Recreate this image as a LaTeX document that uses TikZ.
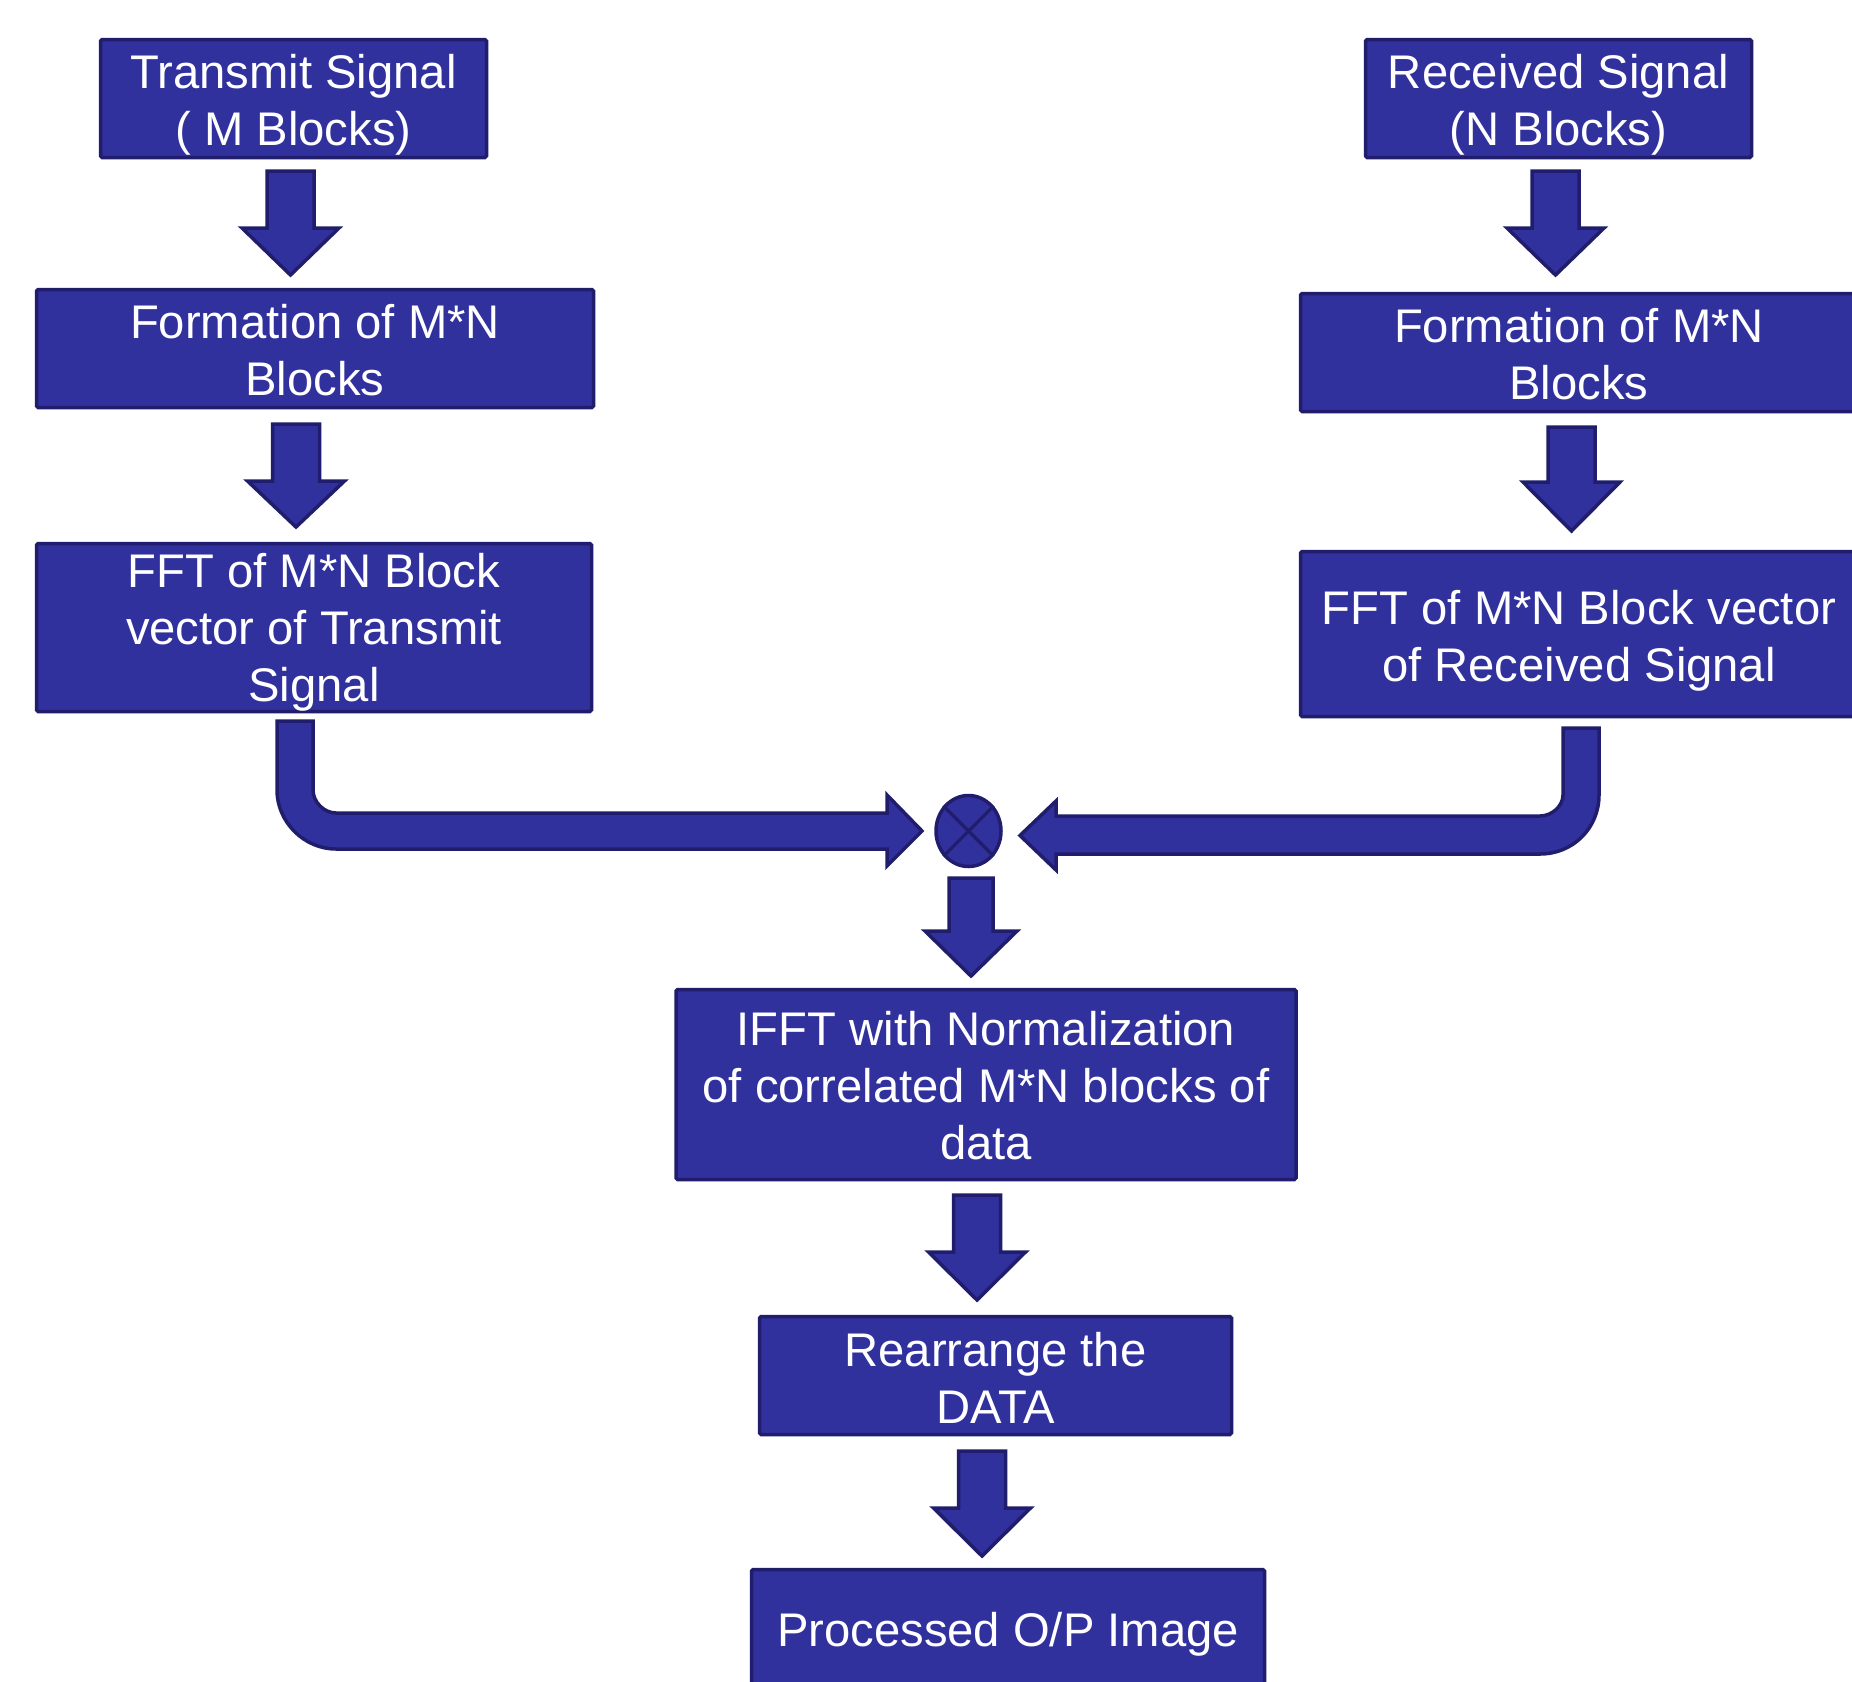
\documentclass[tikz,border=0pt]{standalone}
\usepackage{fontspec}
\setmainfont{Liberation Sans}
\usetikzlibrary{shapes.geometric}
\definecolor{bfill}{RGB}{49,49,158}
\definecolor{bline}{RGB}{32,30,108}
\tikzset{
  box/.style={draw=bline, fill=bfill, line width=1.75pt, inner sep=0pt, rounded corners=0.8pt},
  txt/.style={text=white, align=center, inner sep=0pt, font=\fontsize{23.6}{28.5}\selectfont},
  barrow/.style={draw=bline, fill=bfill, line width=1.75pt, line join=miter},
}
% \dnarrow{cx}{top}{wing}{tip}{shaft half}{head half}
\newcommand\dnarrow[6]{%
  \draw[barrow] (#1-#5,#2) -- (#1+#5,#2) -- (#1+#5,#3) -- (#1+#6,#3) -- (#1,#4)
    -- (#1-#6,#3) -- (#1-#5,#3) -- cycle;}
\begin{document}
\begin{tikzpicture}[x=0.5pt, y=-0.5pt]
\useasboundingbox (0,0) rectangle (1852,1681);
\clip (0,0) rectangle (1852,1681);
\fill[white] (0,0) rectangle (1852,1681);

% boxes
\node[box, minimum width=193pt, minimum height=59pt] (tx) at (293.5,98.5) {};
\node[txt] (txt-tx) at ([yshift=-3pt]tx.center) {Transmit Signal\\( M Blocks)};
\node[box, minimum width=278.5pt, minimum height=59pt] (fl) at (315,348.5) {};
\node[txt] (txt-fl) at ([yshift=-0.6pt]fl.center) {Formation of M*N\\Blocks};
\node[box, minimum width=277.5pt, minimum height=84pt] (fftl) at (314,627.5) {};
\node[txt] (txt-fftl) at ([yshift=-2.4pt]fftl.center) {FFT of M*N Block\\vector of Transmit\\Signal};
\node[box, minimum width=193pt, minimum height=59pt] (rx) at (1558.5,98.5) {};
\node[txt] (txt-rx) at ([yshift=-3pt]rx.center) {Received Signal\\(N Blocks)};
\node[box, minimum width=278.5pt, minimum height=59pt] (fr) at (1579,352.5) {};
\node[txt] (txt-fr) at ([yshift=-0.6pt]fr.center) {Formation of M*N\\Blocks};
\node[box, minimum width=278.5pt, minimum height=82.5pt] (fftr) at (1579,634) {};
\node[txt] (txt-fftr) at ([yshift=-3.5pt]fftr.center) {FFT of M*N Block vector\\of Received Signal};
\node[box, minimum width=310pt, minimum height=95pt] (ifft) at (986,1084.5) {};
\node[txt] (txt-ifft) at ([yshift=-0.6pt]ifft.center) {IFFT with Normalization\\of correlated M*N blocks of\\data};
\node[box, minimum width=236pt, minimum height=59pt] (rearr) at (995.5,1375.5) {};
\node[txt] (txt-rearr) at ([yshift=-1.2pt]rearr.center) {Rearrange the\\DATA};
\node[box, minimum width=256.5pt, minimum height=61.5pt] (out) at (1008,1631) {};
\node[txt] (txt-out) at ([yshift=-1.8pt]out.center) {Processed O/P Image};

% multiplier
\node[draw=bline, fill=bfill, line width=1.75pt, ellipse, inner sep=0pt,
  minimum width=32.5pt, minimum height=35.5pt] (mul) at (968.5,831) {};
\draw[bline, line width=1.6pt] (mul.135) -- (mul.-45) (mul.45) -- (mul.-135);

% straight block arrows
\dnarrow{290.5}{171}{228}{275}{23.5}{48.5}
\dnarrow{296}{424}{481}{527}{23.5}{48.5}
\dnarrow{1555.5}{171}{228}{275}{23.5}{48.5}
\dnarrow{1571.5}{427}{482}{531}{23.5}{48.5}
\dnarrow{971}{878}{931}{976}{22}{46}
\dnarrow{977}{1195}{1252}{1300}{23.5}{48.5}
\dnarrow{982}{1451}{1508}{1556}{23.5}{48.5}

% bent arrow from left FFT to multiplier
\draw[barrow] (277,721) -- (277,790) .. controls (277,822) and (304,849) .. (336,849)
  -- (887,849) -- (887,866) -- (922,831) -- (887,795) -- (887,813) -- (336,813)
  .. controls (324,813) and (313,802) .. (313,790) -- (313,721) -- cycle;

% bent arrow from right FFT to multiplier
\draw[barrow] (1563,728) -- (1599,728) -- (1599,795) .. controls (1599,828) and (1573,854) .. (1540,854)
  -- (1056,854) -- (1056,870) -- (1020,835.5) -- (1056,801) -- (1056,816) -- (1540,816)
  .. controls (1552,816) and (1563,806) .. (1563,795) -- cycle;
\end{tikzpicture}
\end{document}
